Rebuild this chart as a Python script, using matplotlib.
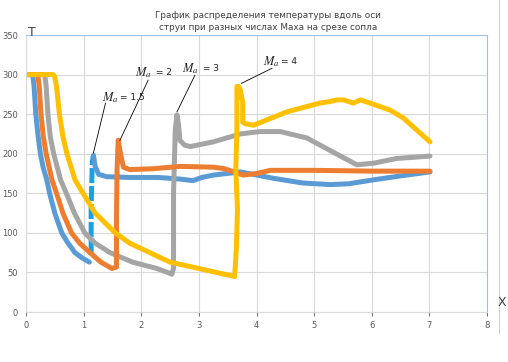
import matplotlib.pyplot as plt
from matplotlib.lines import Line2D

plt.rcParams['mathtext.fontset'] = 'stix'

# Ma = 1.5
blue_x = [0.0, 0.1, 0.12, 0.14, 0.17, 0.21, 0.25, 0.3, 0.36, 0.41, 0.5, 0.62, 0.72, 0.85, 0.98, 1.1]
blue_t = [300, 300, 297, 285, 250, 222, 200, 182, 167, 150, 125, 100, 88, 75, 68, 63]
jump15_x = [1.13, 1.13, 1.14, 1.15, 1.17]
jump15_t = [72, 130, 160, 190, 198]
blue2_x = [1.17, 1.2, 1.26, 1.4, 1.8, 2.3, 2.67, 2.9, 3.05, 3.25, 3.72, 4.29, 4.8, 5.28, 5.6, 6.03, 6.5, 7.01]
blue2_t = [198, 184, 174, 171, 170, 170, 168, 166, 170, 173, 177, 169, 163, 161, 162, 167, 172, 177]

# Ma = 2
orange_x = [0.0, 0.19, 0.21, 0.23, 0.26, 0.3, 0.35, 0.45, 0.53, 0.64, 0.79, 0.93, 1.11, 1.3, 1.49, 1.57]
orange_t = [300, 300, 297, 285, 250, 222, 200, 167, 150, 125, 100, 87, 75, 63, 55, 57]
orange2_x = [1.57, 1.57, 1.57, 1.58, 1.6, 1.64, 1.69, 1.8, 2.2, 2.67, 3.25, 3.45, 3.77, 4.0, 4.24, 5.0, 6.0, 7.01]
orange2_t = [57, 60, 120, 180, 217, 200, 183, 180, 181, 184, 183, 181, 173, 175, 179, 179, 178, 178]

# Ma = 3
gray_x = [0.0, 0.3, 0.33, 0.35, 0.38, 0.42, 0.48, 0.6, 0.7, 0.84, 1.02, 1.2, 1.46, 1.85, 2.27, 2.53]
gray_t = [300, 300, 297, 285, 250, 222, 200, 167, 150, 125, 100, 87, 75, 63, 55, 48]
gray2_x = [2.53, 2.56, 2.56, 2.59, 2.62, 2.65, 2.67, 2.75, 2.85, 3.25, 3.72, 4.06, 4.41, 4.87, 5.33, 5.74, 6.03, 6.43, 7.01]
gray2_t = [48, 55, 150, 230, 249, 235, 217, 211, 209, 215, 225, 228, 228, 220, 202, 186, 188, 194, 197]

# Ma = 4
yellow_x = [0.0, 0.47, 0.5, 0.53, 0.58, 0.64, 0.71, 0.85, 0.99, 1.2, 1.55, 1.8, 2.15, 2.5, 3.0, 3.3, 3.62]
yellow_t = [300, 300, 297, 285, 250, 222, 200, 167, 150, 125, 100, 87, 75, 63, 55, 50, 45]
yellow2_x = [3.62, 3.65, 3.67, 3.64, 3.66, 3.66, 3.69, 3.72, 3.76, 3.76, 3.8, 3.95, 4.53, 5.1, 5.28, 5.39, 5.51, 5.68, 5.8, 5.97, 6.32, 6.55, 7.01]
yellow2_t = [45, 80, 130, 180, 230, 285, 285, 280, 265, 240, 238, 236, 253, 264, 266, 268, 268, 264, 268, 264, 255, 245, 215]

labels = [r'$M_a$', r'$M_a$', r'$M_a$', r'$M_a$']
values = ['= 1.5', ' = 2', ' = 3', '= 4']
label_pos = [(1.32, 271), (1.89, 303), (2.71, 308), (4.11, 316)]
arrow_from = [(1.38, 264), (2.12, 293), (2.93, 299), (4.27, 308)]
arrow_to = [(1.17, 201), (1.63, 217), (2.62, 253), (3.74, 289)]

x_ticks = list(range(0, 9))
y_ticks = list(range(0, 351, 50))

c_blue = '#5b9bd5'
c_jump = '#1ba1e2'
c_orange = '#ed7d31'
c_gray = '#a5a5a5'
c_yellow = '#ffc000'

fig = plt.figure(figsize=(5.08, 3.62), dpi=100)
ax = fig.add_axes([0.0512, 0.1381, 0.9075, 0.7652])

lw = 3.6
kw = dict(solid_capstyle='round', solid_joinstyle='round')
ax.plot(blue_x, blue_t, color=c_blue, lw=lw, **kw)
ax.plot(jump15_x, jump15_t, color=c_jump, lw=lw, dashes=(3, 0.6), **kw)
ax.plot(blue2_x, blue2_t, color=c_blue, lw=lw, **kw)
ax.plot(gray_x, gray_t, color=c_gray, lw=lw, **kw)
ax.plot(gray2_x, gray2_t, color=c_gray, lw=lw, **kw)
ax.plot(orange_x, orange_t, color=c_orange, lw=lw, **kw)
ax.plot(orange2_x, orange2_t, color=c_orange, lw=lw, **kw)
ax.plot(yellow_x, yellow_t, color=c_yellow, lw=lw, **kw)
ax.plot(yellow2_x, yellow2_t, color=c_yellow, lw=lw, **kw)

for lab, val, p, a, b in zip(labels, values, label_pos, arrow_from, arrow_to):
    t = ax.text(p[0], p[1], lab, fontsize=9, va='center', ha='left', color='#222222')
    ax.annotate(val, xy=(1, 0.5), xycoords=t, xytext=(1, 0), textcoords='offset points',
                fontsize=6.5, va='center', ha='left', color='#222222')
    ax.plot([a[0], b[0]], [a[1], b[1]], color='black', lw=0.6)

ax.set_xlim(0, 8)
ax.set_ylim(0, 350)
ax.set_xticks(x_ticks)
ax.set_yticks(y_ticks)
ax.grid(True, color='#d9d9d9', lw=0.8)
ax.set_axisbelow(True)
ax.tick_params(labelsize=6, colors='#595959', length=3, width=0.6)
ax.tick_params(axis='y', length=0, pad=6)
for s in ['left', 'bottom']:
    ax.spines[s].set_color('#d9d9d9')
for s in ['top', 'right']:
    ax.spines[s].set_color('#9dc3e6')

fig.text(268 / 508, 1 - 21.5 / 362, 'График распределения температуры вдоль оси\nструи при разных числах Маха на срезе сопла',
         ha='center', va='center', fontsize=6.4, color='#404040', linespacing=1.45)
fig.text(32 / 508, 1 - 32 / 362, 'T', ha='center', va='center', fontsize=9, color='#404040')
fig.text(502 / 508, 1 - 302 / 362, 'X', ha='center', va='center', fontsize=9, color='#404040')
fig.add_artist(Line2D([499 / 508, 499 / 508], [0.08, 1], color='#d0d0d0', lw=0.8))

fig.savefig('out.png', dpi=100)
